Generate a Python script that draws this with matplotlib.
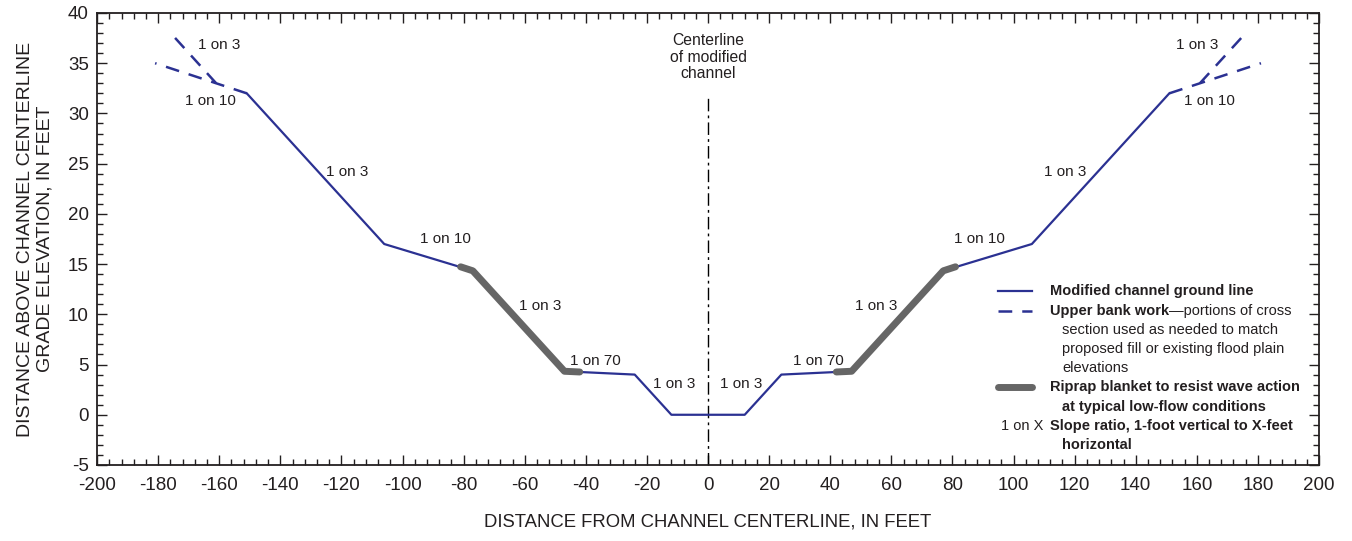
import matplotlib
matplotlib.use("Agg")
import matplotlib.pyplot as plt
from matplotlib.ticker import MultipleLocator

plt.rcParams['font.family'] = ['Liberation Sans', 'DejaVu Sans']
plt.rcParams['axes.unicode_minus'] = False

# channel ground line
ground_x = [-151, -106, -77, -47, -24, -12, 12, 24, 47, 77, 106, 151]
ground_y = [32, 17, 14.33, 4.33, 4, 0, 0, 4, 4.33, 14.33, 17, 32]

# riprap blanket
rip_left_x = [-81, -77, -47, -42]
rip_left_y = [14.73, 14.33, 4.33, 4.26]
rip_right_x = [42, 47, 77, 81]
rip_right_y = [4.26, 4.33, 14.33, 14.73]

# upper bank work (dashed)
ub10_left_x = [-151, -181]
ub10_left_y = [32, 35]
ub3_left_x = [-161, -176.5]
ub3_left_y = [33, 38.2]
ub10_right_x = [151, 181]
ub10_right_y = [32, 35]
ub3_right_x = [161, 176]
ub3_right_y = [33, 38]

# slope labels
lab_x = [-160, -163, -118, -86, -55, -37, -11, 11, 36, 55, 89, 117, 160, 164]
lab_y = [36.8, 31.2, 24.2, 17.5, 10.8, 5.4, 3.1, 3.1, 5.4, 10.8, 17.5, 24.2, 36.8, 31.2]
lab_t = ['1 on 3', '1 on 10', '1 on 3', '1 on 10', '1 on 3', '1 on 70', '1 on 3',
         '1 on 3', '1 on 70', '1 on 3', '1 on 10', '1 on 3', '1 on 3', '1 on 10']

blue = '#2b3192'
grey = '#666666'
txt = '#231f20'

fig = plt.figure(figsize=(13.52, 5.41), dpi=100)
ax = fig.add_axes([0.0718, 0.1405, 0.9038, 0.8355])

ax.plot(ground_x, ground_y, color=blue, lw=1.6, zorder=3)
for xs, ys in [(rip_left_x, rip_left_y), (rip_right_x, rip_right_y)]:
    ax.plot(xs, ys, color=grey, lw=5, solid_capstyle='round', solid_joinstyle='round', zorder=4)
for xs, ys in [(ub10_left_x, ub10_left_y), (ub3_left_x, ub3_left_y),
               (ub10_right_x, ub10_right_y), (ub3_right_x, ub3_right_y)]:
    ax.plot(xs, ys, color=blue, lw=1.8, dashes=(5.5, 4), zorder=3)

# centerline
ax.plot([0, 0], [-5, 31.8], color='black', lw=1, dashes=(9, 3, 2, 3), zorder=2)
ax.text(0, 35.6, 'Centerline\nof modified\nchannel', ha='center', va='center',
        fontsize=11.3, color=txt, linespacing=1.1)

for x, y, t in zip(lab_x, lab_y, lab_t):
    ax.text(x, y, t, ha='center', va='center', fontsize=11, color=txt)

ax.set_xlim(-200, 200)
ax.set_ylim(-5, 40)
ax.xaxis.set_major_locator(MultipleLocator(20))
ax.xaxis.set_minor_locator(MultipleLocator(4))
ax.yaxis.set_major_locator(MultipleLocator(5))
ax.yaxis.set_minor_locator(MultipleLocator(1))
ax.tick_params(which='both', direction='in', top=True, right=True, colors='#231f20',
               labelsize=13.5, width=1)
ax.tick_params(which='major', length=7)
ax.tick_params(which='minor', length=4)
ax.tick_params(axis='x', which='major', pad=9)
ax.tick_params(axis='y', which='major', pad=6)
for s in ax.spines.values():
    s.set_linewidth(1.3)
    s.set_color('#231f20')

ax.set_xlabel('DISTANCE FROM CHANNEL CENTERLINE, IN FEET', fontsize=13.3, color=txt, labelpad=14)
ax.set_ylabel('DISTANCE ABOVE CHANNEL CENTERLINE\nGRADE ELEVATION, IN FEET', fontsize=14,
              color=txt, labelpad=10, linespacing=1.25)

# legend
narrow = ['Liberation Sans Narrow', 'Liberation Sans', 'DejaVu Sans']
tr = ax.transAxes
def fx(px):
    return (px - 97) / 1222.0
def fy(py):
    return (465 - py) / 452.0

ax.plot([fx(998), fx(1032)], [fy(291), fy(291)], color=blue, lw=1.6, transform=tr)
ax.plot([fx(998), fx(1032)], [fy(311), fy(311)], color=blue, lw=1.8, dashes=(5.5, 4), transform=tr)
ax.plot([fx(998), fx(1032)], [fy(387), fy(387)], color=grey, lw=5, solid_capstyle='round', transform=tr)

rows = [
    (1050, 291, 'Modified channel ground line', 'bold'),
    (1062, 330, 'section used as needed to match', 'normal'),
    (1062, 349, 'proposed fill or existing flood plain', 'normal'),
    (1062, 368, 'elevations', 'normal'),
    (1050, 387, 'Riprap blanket to resist wave action', 'bold'),
    (1062, 407, 'at typical low-flow conditions', 'bold'),
    (1050, 426, 'Slope ratio, 1-foot vertical to X-feet', 'bold'),
    (1062, 445, 'horizontal', 'bold'),
]
for px, py, t, w in rows:
    ax.text(fx(px), fy(py), t, transform=tr, fontsize=10.5, fontweight=w, family=narrow,
            color=txt, va='center', ha='left')
t1 = ax.text(fx(1050), fy(311), 'Upper bank work', transform=tr, fontsize=10.5, fontweight='bold',
             family=narrow, color=txt, va='center', ha='left')
ax.annotate('\u2014portions of cross', xycoords=t1, xy=(1, 0.5), va='center', ha='left',
            fontsize=10.5, family=narrow, color=txt)
ax.text(fx(1001), fy(426), '1 on X', transform=tr, fontsize=10.5, color=txt, va='center', ha='left')

fig.savefig('out.png', dpi=100)
